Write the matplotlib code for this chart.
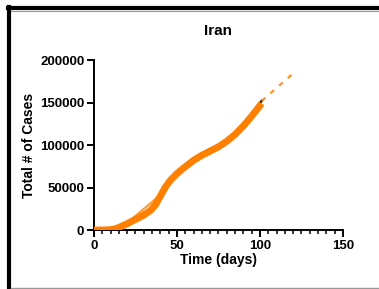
import numpy as np
import matplotlib.pyplot as plt
from matplotlib.lines import Line2D
from matplotlib.ticker import MultipleLocator

plt.rcParams['font.family'] = ['Liberation Sans', 'DejaVu Sans']

# observed cumulative cases (black)
days = [0, 5, 9, 12, 15, 20, 25, 30, 34, 37, 40, 43, 46, 50, 55, 60, 65, 70, 75, 80, 85, 90, 95, 101]
cases = [0, 0, 300, 1500, 4000, 8500, 13500, 18500, 24000, 30000, 40000, 52000, 61000, 69000,
         77000, 84500, 90000, 95000, 100000, 106500, 115000, 125000, 137000, 152000]

# model fit (orange, thick)
fit_days = [-1, 5, 9, 12, 15, 20, 25, 30, 34, 37, 40, 43, 46, 50, 55, 60, 65, 70, 75, 80, 85, 90, 95, 101]
fit_cases = [0, 0, 200, 1000, 3000, 7500, 12500, 17500, 23000, 29500, 40000, 50500, 58500, 66500,
             74500, 82000, 88000, 93000, 98000, 104500, 112500, 122500, 134000, 149000]

# early straight fit segment
seg_days = [17, 38]
seg_cases = [3500, 38000]

# forecast (orange dashed)
pred_days = [101, 121]
pred_cases = [152000, 186000]

fig = plt.figure(figsize=(3.79, 2.89), dpi=100)
ax = fig.add_axes([0.248, 0.204, 0.657, 0.588])

orange = '#ff8000'
ax.plot(days, cases, color='#222222', lw=1.8, zorder=2)
ax.plot(fit_days, fit_cases, color=orange, lw=5, solid_capstyle='butt', zorder=3)
ax.plot(seg_days, seg_cases, color=orange, lw=1.6, alpha=0.8, zorder=3)
ax.plot(pred_days, pred_cases, color=orange, lw=1.6, ls=(0, (2.2, 3)), alpha=0.85, zorder=3)

ax.set_xlim(0, 150)
ax.set_ylim(0, 200000)
ax.set_xticks([0, 50, 100, 150])
ax.xaxis.set_minor_locator(MultipleLocator(5))
ax.set_yticks([0, 50000, 100000, 150000, 200000])
ax.spines['top'].set_visible(False)
ax.spines['right'].set_visible(False)
for s in ['left', 'bottom']:
    ax.spines[s].set_linewidth(1.4)
ax.tick_params(which='major', length=5, width=1.4, labelsize=9.5, pad=2)
ax.tick_params(which='minor', length=3, width=1.1)
for lab in ax.get_xticklabels() + ax.get_yticklabels():
    lab.set_fontweight('bold')

ax.set_title('Iran', fontsize=11, fontweight='bold', pad=18)
ax.set_xlabel('Time (days)', fontsize=10, fontweight='bold', labelpad=1)
ax.set_ylabel('Total # of Cases', fontsize=10, fontweight='bold', labelpad=3)

# outer frame of the panel
fig.add_artist(Line2D([0.021, 1.0], [0.972, 0.972], color='black', lw=3, transform=fig.transFigure))
fig.add_artist(Line2D([0.025, 0.025], [0.0, 0.975], color='black', lw=3, transform=fig.transFigure))
fig.add_artist(Line2D([0.03, 1.0], [0.963, 0.963], color='#999999', lw=0.8, transform=fig.transFigure))
fig.add_artist(Line2D([0.03, 1.0], [0.004, 0.004], color='#999999', lw=1, transform=fig.transFigure))

fig.savefig('out.png', dpi=100)
